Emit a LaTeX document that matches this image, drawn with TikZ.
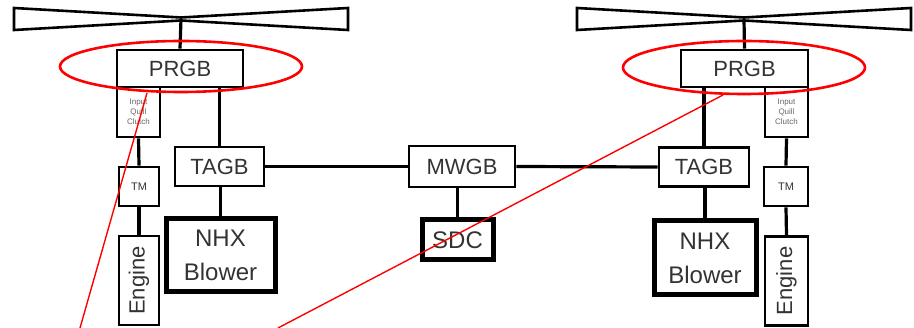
\documentclass[tikz,border=0pt]{standalone}
\usepackage{fontspec}
\setmainfont{Liberation Sans}
\usetikzlibrary{calc}
\tikzset{box/.style={draw, line width=2.8pt, inner sep=0pt, text=black!80,
    font=\fontsize{22}{24}\selectfont}}
\tikzset{bigbox/.style={box, line width=5pt, align=center,
    font=\fontsize{24}{34}\selectfont}}
\tikzset{tiny/.style={box, align=center, text=black!60,
    font=\fontsize{8}{10}\selectfont}}
\tikzset{link/.style={line width=3.2pt}}
\tikzset{rotor/.style={line width=2.6pt, line join=miter}}
\tikzset{ring/.style={red, line width=2.6pt}}
\tikzset{ray/.style={red, line width=1.4pt}}

\begin{document}
\begin{tikzpicture}[x=1pt,y=-1pt]
  \useasboundingbox (0,0) rectangle (914,328);
  % Rotors
  \foreach \hx/\side in {181/L,744/R} {
    \coordinate (hub\side) at (\hx,19);
    \draw[rotor] (\hx-167,8) -- (\hx,17.5) -- (\hx+167,8) -- (\hx+167,30)
      -- (\hx,20.5) -- (\hx-167,30) -- cycle;
  }

  % Left drive
  \node[box, minimum width=126, minimum height=37] (prgbL) at (180,68.5) {PRGB};
  \node[tiny, minimum width=43, minimum height=50] (clutchL) at (138.5,112) {Input\\Quill\\Clutch};
  \node[box, minimum width=40, minimum height=39, font=\fontsize{11}{12}\selectfont] (tmL) at (139,186.5) {TM};
  \node[box, minimum width=89, minimum height=40, rotate=90] (engL) at (139,280.5) {Engine};
  \node[box, minimum width=89, minimum height=39] (tagbL) at (219.5,166.5) {TAGB};
  \node[bigbox, minimum width=109, minimum height=73] (nhxL) at (220.5,255.5) {NHX\\Blower};

  % Right drive
  \node[box, minimum width=127, minimum height=37] (prgbR) at (744.5,68.5) {PRGB};
  \node[tiny, minimum width=43, minimum height=50] (clutchR) at (786.5,112) {Input\\Quill\\Clutch};
  \node[box, minimum width=44, minimum height=39, font=\fontsize{11}{12}\selectfont] (tmR) at (786,186.5) {TM};
  \node[box, minimum width=89, minimum height=43, rotate=90] (engR) at (786.5,281) {Engine};
  \node[box, minimum width=90, minimum height=39] (tagbR) at (704,167) {TAGB};
  \node[bigbox, minimum width=102, minimum height=74] (nhxR) at (705,258) {NHX\\Blower};

  % Middle
  \node[box, minimum width=106, minimum height=41] (mwgb) at (462,166.5) {MWGB};
  \node[bigbox, minimum width=71, minimum height=40] (sdc) at (457.5,240) {SDC};

  % Shafts
  \foreach \side in {L,R} {
    \draw[link] (hub\side) -- (prgb\side.north);
    \draw[link] (clutch\side.south) -- (tm\side.north);
    \draw[link] (tm\side.south) -- (eng\side.east);
    \draw[link] (tagb\side.north) -- (tagb\side.north |- prgb\side.south);
    \draw[link] (nhx\side.north) -- (nhx\side.north |- tagb\side.south);
  }
  \draw[link] (tagbL.east) -- (mwgb.west);
  \draw[link] (mwgb.east) -- (tagbR.west);
  \draw[link] (sdc.north) -- (sdc.north |- mwgb.south);

  % Markup
  \draw[ring] (181,66.5) ellipse (121 and 25.5);
  \draw[ring] (744,67.5) ellipse (121 and 26.5);
  \coordinate (fromL) at (147,93);
  \coordinate (toL) at (80,328);
  \coordinate (fromR) at (723,95);
  \coordinate (toR) at (278,328);
  \draw[ray] (fromL) -- (toL);
  \draw[ray] (fromR) -- (toR);
\end{tikzpicture}
\end{document}
